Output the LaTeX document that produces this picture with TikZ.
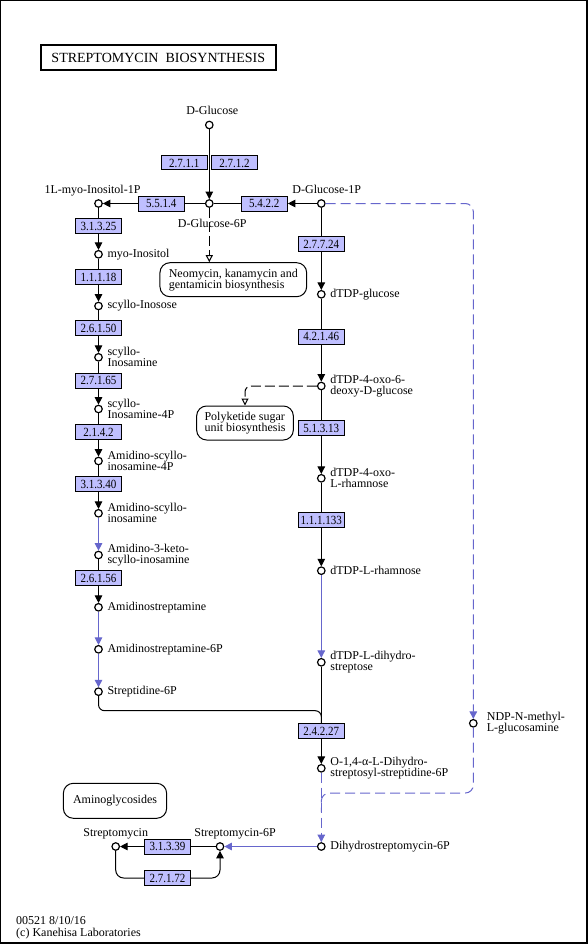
\documentclass[tikz,border=0pt]{standalone}
\usepackage{fontspec}
\setmainfont{Liberation Serif}
\newfontfamily\enzfont{Liberation Serif}[FakeStretch=0.88]
\usetikzlibrary{arrows.meta}
\definecolor{enzfill}{RGB}{191,191,255}
\definecolor{rxblue}{RGB}{102,102,204}

\begin{document}
\begin{tikzpicture}[x=1pt,y=-1pt,
    cpd/.style = {circle, draw, line width=1.2pt, fill=white, inner sep=0pt, minimum size=7.5pt},
    enz/.style = {draw, line width=1pt, fill=enzfill, inner sep=0pt,
        minimum width=46pt, minimum height=15pt, font=\enzfont\fontsize{12.5}{12}\selectfont},
    mapbox/.style = {draw, line width=1pt, rounded corners=10pt, align=left, inner sep=0pt,
        font=\fontsize{12}{11}\selectfont},
    every label/.style = {font=\fontsize{12}{11}\selectfont, align=left, inner sep=1pt},
    lbr/.style = {label distance=3.5pt},
    lbt/.style = {label distance=2pt, text height=8.5pt, text depth=2.5pt},
    rxn/.style = {line width=1pt, -{Triangle[length=7.5pt,width=7.5pt]}},
    brxn/.style = {rxn, draw=rxblue, -{Triangle[length=7.5pt,width=7.5pt,fill=rxblue]}},
    mapline/.style = {line width=1pt, dash pattern=on 10pt off 4pt, -{Triangle[open,length=7pt,width=7pt]}},
    bdash/.style = {line width=1pt, draw=rxblue, dash pattern=on 10pt off 5pt}
  ]
  \useasboundingbox (0,0) rectangle (588,944);
  \draw[line width=1pt] (0.5,943) |- (587,0.5);
  \draw[line width=2pt] (0,943) -| (587,0);

  \node[draw, line width=2pt, minimum width=235pt, minimum height=25pt, font=\fontsize{14}{14}\selectfont]
    (title) at (158.3,58) {STREPTOMYCIN\ \ BIOSYNTHESIS};

  % glucose hub
  \node[cpd, label={[lbt, xshift=3pt]above:D-Glucose}] (glc) at (209.3,125) {};
  \node[cpd, label={[lbt, label distance=10pt, xshift=3pt]below:D-Glucose-6P}] (g6p) at (209.3,203.5) {};
  \node[cpd, label={[lbt, xshift=-6pt]above:1L-myo-Inositol-1P}] (myo1p) at (98.5,203.5) {};
  \node[cpd, label={[lbt, xshift=5.5pt]above:D-Glucose-1P}] (g1p) at (321.3,203.5) {};
  \node[enz, minimum height=14pt] (e2711) at (184.2,163) {2.7.1.1};
  \node[enz, minimum height=14pt] (e2712) at (234.5,163) {2.7.1.2};
  \node[enz] (e5514) at (161.3,203.5) {5.5.1.4};
  \node[enz] (e5422) at (264.3,203.5) {5.4.2.2};
  \draw[rxn] (glc) -- (g6p);
  \draw[rxn] (g6p) -- (e5514) -- (myo1p);
  \draw[rxn, {Triangle[length=7.5pt,width=7.5pt]}-] (g6p) -- (e5422) -- (g1p);

  \foreach \nm/\y/\txt in {myoi/254.3/myo-Inositol, sino/306/scyllo-Inosose,
      sina/357.3/scyllo-\\Inosamine, sina4p/409/scyllo-\\Inosamine-4P,
      amsi4p/461/Amidino-scyllo-\\inosamine-4P, amsi/513.3/Amidino-scyllo-\\inosamine,
      amk/555/Amidino-3-keto-\\scyllo-inosamine, amst/607.3/Amidinostreptamine,
      amst6p/649.3/Amidinostreptamine-6P, std6p/691.7/Streptidine-6P}{ % left column
      \node[cpd, label={[lbr]right:\txt}] (\nm) at (98.5,\y) {};
    }
  \foreach \nm/\y/\txt in {dtglc/294.3/dTDP-glucose, oxod/386/dTDP-4-oxo-6-\\deoxy-D-glucose,
      oxor/478.3/dTDP-4-oxo-\\L-rhamnose, rham/570.7/dTDP-L-rhamnose,
      dhst/662.3/dTDP-L-dihydro-\\streptose,
      odhs/768.3/{O-1,4-α-L-Dihydro-\\streptosyl-streptidine-6P},
      dhsm6p/846.5/Dihydrostreptomycin-6P}{ % right column
      \node[cpd, label={[lbr]right:\txt}] (\nm) at (321.3,\y) {};
    }
  \node[cpd, label={[label distance=8pt]right:NDP-N-methyl-\\L-glucosamine}] (ndp) at (473.3,723.3) {};
  \node[cpd, label={[lbt]above:Streptomycin}] (strm) at (115.7,846.5) {};
  \node[cpd, label={[lbt, xshift=15pt]above:Streptomycin-6P}] (strm6p) at (220,846.5) {};

  \foreach \a/\b/\ec/\x/\y in {myo1p/myoi/3.1.3.25/98.5/226, myoi/sino/1.1.1.18/98.5/277,
      sino/sina/2.6.1.50/98.5/328.3, sina/sina4p/2.7.1.65/98.5/380.8,
      sina4p/amsi4p/2.1.4.2/98.5/432, amsi4p/amsi/3.1.3.40/98.5/484,
      amk/amst/2.6.1.56/98.5/578, g1p/dtglc/2.7.7.24/321.3/244,
      dtglc/oxod/4.2.1.46/321.3/336.7, oxod/oxor/5.1.3.13/321.3/428,
      oxor/rham/1.1.1.133/321.3/520.3, dhst/odhs/2.4.2.27/321.3/731,
      strm6p/strm/3.1.3.39/167.5/846.5}{ % enzyme steps
      \node[enz] (e\a) at (\x,\y) {\ec};
      \draw[rxn] (\a) -- (e\a) -- (\b);
    }
  \foreach \a/\b in {amsi/amk, amst/amst6p, amst6p/std6p, rham/dhst, dhsm6p/strm6p}
    \draw[brxn] (\a) -- (\b);

  % streptidine joins the glycosyl transfer
  \coordinate (jn1) at (321.3,710.7);
  \draw[line width=1pt, rounded corners=6pt] (std6p) |- (jn1) -- (edhst);

  % phosphorylation loop
  \node[enz] (e27172) at (167.5,878) {2.7.1.72};
  \draw[rxn, rounded corners=8pt] (strm) |- (e27172) -| (strm6p);

  % linked maps
  \node[mapbox, minimum width=146.7pt, minimum height=34pt] (neomap) at (233.3,279.7)
    {Neomycin, kanamycin and\\gentamicin biosynthesis};
  \node[mapbox, minimum width=96.7pt, minimum height=34pt] (polymap) at (245,423)
    {Polyketide sugar\\unit biosynthesis};
  \node[mapbox, minimum width=103.3pt, minimum height=35pt] (aminomap) at (115,800.8)
    {Aminoglycosides};
  \draw[mapline] (g6p) -- (g6p |- neomap.north);
  \draw[mapline, rounded corners=6pt] (oxod) -| (polymap.north);

  % NDP-sugar branch
  \coordinate (jn2) at (321.3,793);
  \coordinate (jn3) at (321.3,812);
  \draw[bdash, rounded corners=8pt, -{Triangle[length=7.5pt,width=7.5pt,fill=rxblue]}] (g1p) -| (ndp);
  \draw[bdash, rounded corners=8pt] (ndp) |- (jn2) -- (jn3);
  \draw[bdash, -{Triangle[length=7.5pt,width=7.5pt,fill=rxblue]}] (odhs) -- (dhsm6p);

  \node[anchor=west, align=left, inner sep=0pt, font=\fontsize{12}{11.5}\selectfont]
    (foot) at (16,928) {00521 8/10/16\\(c) Kanehisa Laboratories};
\end{tikzpicture}
\end{document}
